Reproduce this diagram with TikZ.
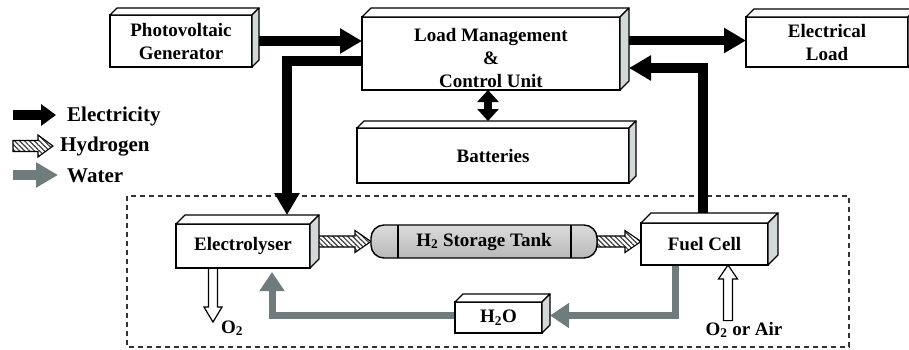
\documentclass[tikz,border=0pt]{standalone}
\usepackage{fontspec}
\setmainfont{Liberation Serif}
\usetikzlibrary{arrows.meta,calc,patterns.meta,backgrounds}
\definecolor{waterc}{RGB}{112,124,124}
\definecolor{sideg}{RGB}{212,216,216}
\newcommand\boxfaces[2]{%
  \draw[facestyle,fill=white] (#1.north west) -- ($(#1.north west)+(#2,-#2)$) -- ($(#1.north east)+(#2,-#2)$) -- (#1.north east) -- cycle;
  \draw[facestyle,fill=sideg] (#1.north east) -- ($(#1.north east)+(#2,-#2)$) -- ($(#1.south east)+(#2,-#2)$) -- (#1.south east) -- cycle;}
\newcommand\blockarrow[6][]{%
  \coordinate (baA) at (#2); \coordinate (baB) at (#3);
  \coordinate (baC) at ($(baB)!#6!(baA)$);
  \draw[#1] ($(baA)!#4!90:(baB)$) -- ($(baC)!#4!-90:(baA)$) -- ($(baC)!#5!-90:(baA)$) -- (baB) -- ($(baC)!#5!90:(baA)$) -- ($(baC)!#4!90:(baA)$) -- ($(baA)!#4!-90:(baB)$) -- cycle;}
\begin{document}
\begin{tikzpicture}[x=1pt,y=-1pt,
  box/.style={draw, line width=1.5pt, fill=white, inner sep=0pt, outer sep=0pt, align=center, font=\fontsize{19}{23}\selectfont\bfseries},
  facestyle/.style={line width=1.3pt, line join=round},
  lab/.style={inner sep=1pt, font=\fontsize{19}{23}\selectfont\bfseries},
  legtext/.style={inner sep=0pt, font=\fontsize{21}{24}\selectfont\bfseries},
  elec/.style={draw=black, line width=9.5pt, -{Triangle[width=24pt,length=22pt]}},
  elecboth/.style={draw=black, line width=8pt, {Triangle[width=21pt,length=12pt]}-{Triangle[width=21pt,length=12pt]}},
  water/.style={draw=waterc, line width=7pt, -{Triangle[width=24pt,length=19pt]}},
  hyd/.style={draw, line width=1.1pt, preaction={fill=white}, pattern={Lines[angle=-45,distance=3.5pt,line width=1.2pt]}, pattern color=black!75},
  hollow/.style={draw, line width=1.2pt, fill=white},
  region/.style={draw=black!80, line width=1.3pt, dash pattern=on 5pt off 4pt}
]
\useasboundingbox (0,0) rectangle (909,349);

% boxes
\node[box, minimum width=142pt, minimum height=52pt] (pv) at (181,41) {Photovoltaic\\Generator};
\node[box, minimum width=258pt, minimum height=73pt] (lm) at (491,53.5) {\rule{0pt}{23pt}Load Management\\\&\\Control Unit};
\node[box, minimum width=162pt, minimum height=50pt] (load) at (827,42) {Electrical\\Load};
\node[box, minimum width=272pt, minimum height=55pt] (bat) at (493,155.5) {Batteries};
\node[box, minimum width=134pt, minimum height=44pt] (el) at (243,246) {Electrolyser};
\node[box, minimum width=127pt, minimum height=42pt] (fc) at (704.5,244) {Fuel Cell};
\node[box, minimum width=87pt, minimum height=31pt] (h2o) at (498.5,317.5) {H\textsubscript{2}O};
\node[draw, line width=1.4pt, rounded corners=13pt, minimum width=226pt, minimum height=33pt, inner sep=0pt, outer sep=0pt,
      top color=gray!28, middle color=white, bottom color=gray!55,
      font=\fontsize{19}{23}\selectfont\bfseries] (tank) at (484,241.5) {H\textsubscript{2} Storage Tank};
\draw[line width=1.2pt] ($(tank.north west)+(27,0)$) -- ($(tank.south west)+(27,0)$);
\draw[line width=1.2pt] ($(tank.north east)+(-26,0)$) -- ($(tank.south east)+(-26,0)$);

\boxfaces{pv}{7}
\boxfaces{lm}{9}
\boxfaces{load}{8}
\boxfaces{bat}{7}
\boxfaces{el}{9}
\boxfaces{fc}{10}
\boxfaces{h2o}{8}

% labels
\node[lab, anchor=base west] (o2l) at (220,333) {O\textsubscript{2}};
\node[lab, anchor=base] (air) at (744,335) {O\textsubscript{2} or Air};
\coordinate (o2tip) at (213,322);
\coordinate (airbase) at ($(air.north)+(-16,0)$);

\begin{scope}[on background layer]
  \draw[region] (127,196) rectangle (849,347);
  % electricity
  \draw[elec] (pv.east) -- (pv.east -| lm.west);
  \draw[elec] ([yshift=13pt]lm.east) -- ([yshift=13pt]lm.east -| load.west);
  \draw[elec] ([yshift=-7.5pt]lm.west) -| ($(el.north)+(44,-9)$);
  \draw[elec] ($(fc.north)+(-1.5,-10)$) |- ($(lm.east)+(9,14.5)$);
  \draw[elecboth] ($(lm.south)+(-3,0)$) -- ($(bat.north)+(-5,-7)$);
  % hydrogen
  \blockarrow[hyd]{$(el.east)+(8,-4.5)$}{tank.west}{5.5pt}{11pt}{16pt}
  \blockarrow[hyd]{tank.east}{tank.east -| fc.west}{5.5pt}{11pt}{16pt}
  % water
  \draw[water] ($(fc.south)+(-29.5,0)$) |- ($(h2o.east)+(8,-2)$);
  \draw[water] ($(h2o.west)+(0,-2)$) -| ($(el.south)+(29,4)$);
  % oxygen
  \blockarrow[hollow]{$(el.south)+(-30,0)$}{o2tip}{4.5pt}{9pt}{15pt}
  \blockarrow[hollow]{airbase}{airbase |- fc.south}{4.5pt}{9.5pt}{14pt}
\end{scope}

% legend
\coordinate (le1) at (13,115); \coordinate (le2) at (56,115);
\coordinate (lh1) at (13,146); \coordinate (lh2) at (53,146);
\coordinate (lw1) at (13,175); \coordinate (lw2) at (58,175);
\draw[draw=black, line width=10pt, -{Triangle[width=21pt,length=15pt]}] (le1) -- (le2);
\blockarrow[hyd]{lh1}{lh2}{5.5pt}{11pt}{15pt}
\draw[draw=waterc, line width=10pt, -{Triangle[width=24pt,length=22pt]}] (lw1) -- (lw2);
\node[legtext, anchor=base west] (lt1) at (67,121) {Electricity};
\node[legtext, anchor=base west] (lt2) at (60,151) {Hydrogen};
\node[legtext, anchor=base west] (lt3) at (67,182) {Water};
\end{tikzpicture}
\end{document}
